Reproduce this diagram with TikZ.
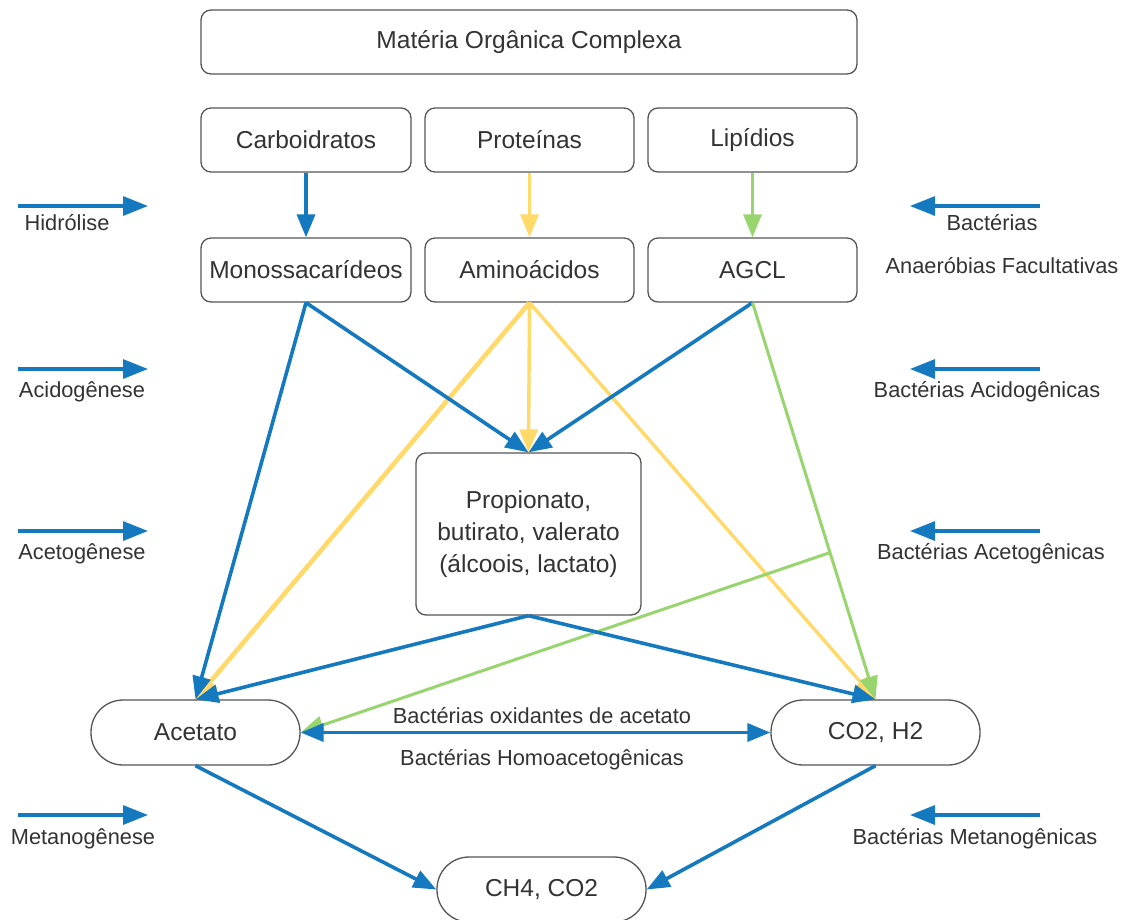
\documentclass[tikz,border=0pt]{standalone}
\usepackage{fontspec}
\setmainfont{Liberation Sans}
\usetikzlibrary{arrows.meta,calc}
\definecolor{cblue}{HTML}{1479BE}
\definecolor{cyel}{HTML}{FFDA6A}
\definecolor{cgreen}{HTML}{99D56F}
\definecolor{cborder}{HTML}{555555}
\definecolor{ctext}{HTML}{333333}
\begin{document}
\begin{tikzpicture}[x=1pt,y=-1pt,
  box/.style={draw=cborder,line width=1.3pt,rounded corners=10pt,minimum width=210pt,minimum height=64pt,inner sep=0pt,text=ctext,font=\fontsize{24.5}{32}\selectfont},
  pill/.style={box,rounded corners=32pt},
  lbl/.style={text=ctext,font=\fontsize{21.8}{26}\selectfont,inner sep=0pt},
  tip/.style={-{Triangle[length=23pt,width=18pt]}},
  bl/.style={tip,draw=cblue,line width=3.6pt},
  yl/.style={tip,draw=cyel,line width=3.4pt},
  gl/.style={tip,draw=cgreen,line width=3pt},
]
\useasboundingbox (0,0) rectangle (1129,919);
\fill[white] (0,0) rectangle (1129,919);

% nodes
\node[box,minimum width=656pt] (mat) at (529,42) {Matéria Orgânica Complexa};
\node[box] (carb) at (306,140) {Carboidratos};
\node[box,minimum width=209pt] (prot) at (529.5,140) {Proteínas};
\node[box,minimum width=209pt] (lip) at (752.5,140) {Lipídios};
\node[box] (mono) at (306,270) {Monossacarídeos};
\node[box,minimum width=209pt] (amino) at (529.5,270) {Aminoácidos};
\node[box,minimum width=209pt] (agcl) at (752.5,270) {AGCL};
\node[box,minimum width=225pt,minimum height=162pt,align=center] (prop) at (528.5,534) {Propionato,\\butirato, valerato\\(álcoois, lactato)};
\node[pill,minimum width=209pt,minimum height=65pt] (acet) at (195.5,732.5) {Acetato};
\node[pill,minimum width=209pt,minimum height=65pt] (co2) at (875.5,732.5) {CO2, H2};
\node[pill,minimum width=209pt,minimum height=65pt] (ch4) at (541.5,889.5) {CH4, CO2};

% hydrolysis arrows
\draw[bl] (carb.south) -- (mono.north);
\draw[yl] (prot.south) -- (amino.north);
\draw[gl] (lip.south) -- (agcl.north);

% acidogenesis
\draw[yl,line width=4.6pt] (amino.south) -- (acet.north);
\draw[yl] (amino.south) -- (co2.north);
\draw[bl] (mono.south) -- (acet.north);
\draw[bl] (mono.south) -- (prop.north);
\draw[bl] (agcl.south) -- (prop.north);
\draw[yl] (amino.south) -- (prop.north);
\coordinate (br) at ($(agcl.south)!0.63!(co2.north)$);
\draw[gl] (agcl.south) -- (co2.north);
\draw[gl] (br) -- (acet.east);

% acetogenesis
\draw[bl] (prop.south) -- (acet.north);
\draw[bl] (prop.south) -- (co2.north);

% acetate <-> CO2
\draw[bl,{Triangle[length=23pt,width=18pt]}-{Triangle[length=23pt,width=18pt]}] (acet.east) -- (co2.west);
\node[lbl] (ox) at (542,716) {Bactérias oxidantes de acetato};
\node[lbl] (homo) at (542,760) {Bactérias Homoacetogênicas};

% methanogenesis
\draw[bl] (acet.south) -- (ch4.west);
\draw[bl] (co2.south) -- (ch4.east);

% side arrows
\foreach \n/\y in {1/206,2/369,3/531,4/815}{
  \coordinate (ls\n) at (18,\y); \coordinate (le\n) at (148,\y);
  \coordinate (rs\n) at (1040,\y); \coordinate (re\n) at (910,\y);
  \draw[bl,line width=3.2pt,-{Triangle[length=25pt,width=19pt]}] (ls\n) -- (le\n);
  \draw[bl,line width=3.2pt,-{Triangle[length=25pt,width=19pt]}] (rs\n) -- (re\n);
}
\node[lbl] (t1) at (67,223) {Hidrólise};
\node[lbl] (t2) at (82,392) {Acidogênese};
\node[lbl] (t3) at (82,554) {Acetogênese};
\node[lbl] (t4) at (83,839) {Metanogênese};
\node[lbl] (r1a) at (992,223) {Bactérias};
\node[lbl] (r1b) at (1002,266) {Anaeróbias Facultativas};
\node[lbl] (r2) at (987,392) {Bactérias Acidogênicas};
\node[lbl] (r3) at (991,554) {Bactérias Acetogênicas};
\node[lbl] (r4) at (975,839) {Bactérias Metanogênicas};
\end{tikzpicture}
\end{document}
